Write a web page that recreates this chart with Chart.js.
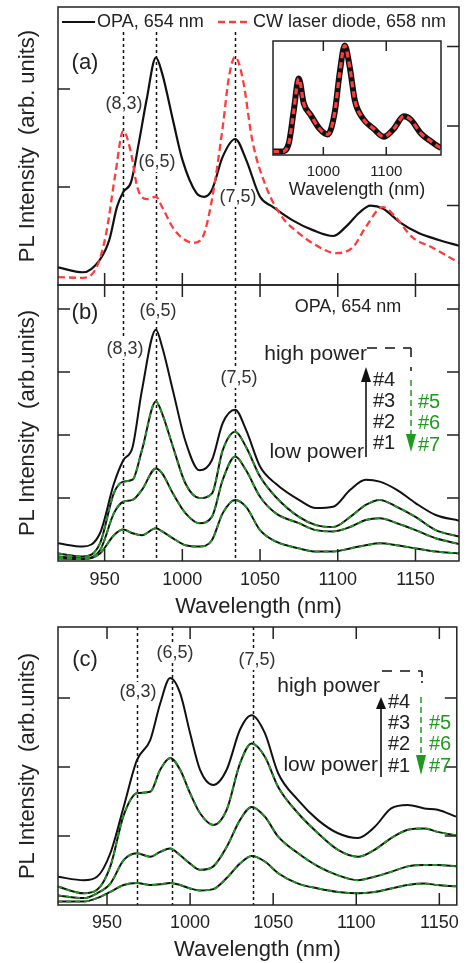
<!DOCTYPE html>
<html>
<head>
<meta charset="utf-8">
<script src="https://cdn.jsdelivr.net/npm/chart.js@4.4.0/dist/chart.umd.min.js"></script>
<style>
  body { margin: 0; background: #fff; }
  #wrap { position: relative; width: 466px; height: 963px; overflow: hidden; }
  canvas { position: absolute; }
</style>
</head>
<body>
<div id="wrap">
  <canvas id="panelA" width="466" height="286" style="left:0;top:0"></canvas>
  <canvas id="panelB" width="466" height="342" style="left:0;top:278px"></canvas>
  <canvas id="panelC" width="466" height="343" style="left:0;top:620px"></canvas>
  <canvas id="inset" width="180" height="166" style="left:268px;top:36px"></canvas>
</div>
<script>
// ---- data ----

// panel (a): OPA excitation (left axis) and CW laser diode (right axis)
const aOpaNm  = [920, 936, 947, 953, 958, 962, 967, 972, 977, 983, 987, 994, 1000, 1009, 1014, 1019, 1026, 1034, 1041, 1050, 1058, 1071, 1084, 1097, 1105, 1114, 1121, 1129, 1140, 1152, 1165, 1178];
const aOpaVal = [0.18, 0.13, 0.26, 0.46, 0.80, 0.95, 1.05, 1.45, 1.89, 2.32, 2.16, 1.68, 1.28, 0.94, 0.90, 0.97, 1.31, 1.49, 1.28, 0.90, 0.80, 0.66, 0.56, 0.50, 0.59, 0.74, 0.81, 0.78, 0.64, 0.53, 0.46, 0.40];
const aCwNm   = [920, 936, 945, 951, 957, 962, 967, 971, 977, 983, 987, 994, 1000, 1007, 1013, 1019, 1026, 1030, 1034, 1039, 1045, 1054, 1064, 1075, 1086, 1099, 1110, 1118, 1129, 1137, 1148, 1161, 1178];
const aCwVal  = [0.10, 0.09, 0.23, 0.65, 1.41, 1.94, 1.66, 1.23, 1.08, 1.11, 0.98, 0.72, 0.59, 0.53, 0.60, 1.07, 1.99, 2.62, 2.87, 2.58, 1.82, 1.23, 0.86, 0.65, 0.50, 0.40, 0.48, 0.73, 0.98, 0.86, 0.60, 0.47, 0.28];

// inset of (a)
const insetNm  = [920, 934, 945, 953, 961, 969, 980, 994, 1007, 1018, 1026, 1034, 1042, 1050, 1063, 1080, 1096, 1112, 1128, 1139, 1155, 1171, 1184, 1187];
const insetVal = [0.03, 0.03, 0.10, 0.39, 0.67, 0.45, 0.35, 0.23, 0.18, 0.37, 0.72, 0.96, 0.77, 0.48, 0.32, 0.23, 0.16, 0.23, 0.34, 0.31, 0.19, 0.12, 0.07, 0.06];

// panel (b): power series #1..#4 (#5..#7 retrace #3..#1)
const bNm     = [920, 936, 947, 956, 962, 968, 974, 983, 987, 994, 1002, 1011, 1019, 1026, 1034, 1041, 1050, 1060, 1075, 1086, 1097, 1108, 1118, 1127, 1138, 1150, 1163, 1178];
const bPower4 = [0.28, 0.23, 0.44, 1.23, 1.60, 1.81, 2.71, 3.67, 3.40, 2.70, 1.90, 1.44, 1.60, 2.19, 2.40, 2.08, 1.50, 1.23, 0.97, 0.84, 0.86, 1.13, 1.29, 1.26, 1.13, 0.92, 0.73, 0.64];
const bPower3 = [0.12, 0.07, 0.28, 1.08, 1.26, 1.29, 1.76, 2.53, 2.34, 1.81, 1.23, 1.00, 1.07, 1.76, 2.05, 1.81, 1.34, 1.02, 0.70, 0.57, 0.54, 0.70, 0.89, 0.97, 0.86, 0.70, 0.49, 0.39];
const bPower2 = [0.07, 0.04, 0.17, 0.76, 0.94, 0.97, 1.13, 1.47, 1.39, 1.07, 0.76, 0.60, 0.70, 1.29, 1.66, 1.44, 1.02, 0.76, 0.60, 0.49, 0.47, 0.54, 0.65, 0.68, 0.60, 0.49, 0.36, 0.27];
const bPower1 = [0.04, 0.03, 0.12, 0.41, 0.50, 0.44, 0.41, 0.52, 0.47, 0.36, 0.25, 0.23, 0.33, 0.76, 0.97, 0.86, 0.49, 0.31, 0.20, 0.15, 0.15, 0.20, 0.25, 0.28, 0.25, 0.20, 0.15, 0.12];

// panel (c)
const cNm     = [920, 936, 944, 952, 960, 968, 976, 982, 988, 994, 1000, 1006, 1014, 1022, 1030, 1037, 1045, 1053, 1065, 1077, 1089, 1101, 1111, 1121, 1131, 1141, 1149, 1160];
const cPower4 = [0.41, 0.36, 0.41, 0.75, 1.42, 2.10, 2.39, 2.92, 3.29, 3.07, 2.49, 1.96, 1.74, 1.96, 2.54, 2.75, 2.49, 1.91, 1.52, 1.23, 1.04, 0.97, 1.13, 1.40, 1.45, 1.40, 1.38, 1.28];
const cPower3 = [0.27, 0.17, 0.22, 0.56, 1.30, 1.62, 1.64, 1.96, 2.13, 1.96, 1.62, 1.33, 1.16, 1.38, 2.05, 2.34, 2.15, 1.71, 1.33, 1.04, 0.80, 0.70, 0.80, 0.97, 1.09, 1.11, 1.06, 1.01];
const cPower2 = [0.14, 0.10, 0.17, 0.31, 0.65, 0.75, 0.70, 0.77, 0.82, 0.72, 0.60, 0.51, 0.56, 0.84, 1.23, 1.42, 1.28, 0.99, 0.75, 0.56, 0.43, 0.36, 0.41, 0.48, 0.56, 0.58, 0.58, 0.56];
const cPower1 = [0.05, 0.05, 0.10, 0.19, 0.29, 0.32, 0.29, 0.30, 0.32, 0.29, 0.24, 0.21, 0.23, 0.39, 0.60, 0.71, 0.63, 0.46, 0.31, 0.24, 0.19, 0.17, 0.19, 0.24, 0.29, 0.31, 0.29, 0.27];

// peak markers and ticks
const abPeaks = [962, 983, 1034];
const cPeaks  = [968, 989, 1038];
const xTicks  = [950, 1000, 1050, 1100, 1150];
const insetTicks = [1000, 1100];
const aLeftTicks = [1, 2];
const aRightTicks = [1, 2, 3];
const bYTicks = [1, 2, 3, 4];
const cYTicks = [1, 2, 3];

// ---- drawing helpers ----
const FONT = '"Liberation Sans", Arial, Helvetica, sans-serif';
const BLACK = '#111111';
const RED = '#ff3c3c';
const GREEN = '#1f9a1f';
const TXT = '#222222';

Chart.defaults.font.family = FONT;
Chart.defaults.color = TXT;

function pts(xs, ys) { return xs.map((x, i) => ({ x: x, y: ys[i] })); }

function text(ctx, s, x, y, size, color, align) {
  ctx.font = size + 'px ' + FONT;
  ctx.fillStyle = color || TXT;
  ctx.textAlign = align || 'center';
  ctx.textBaseline = 'middle';
  ctx.fillText(s, x, y);
}

function line(ctx, x1, y1, x2, y2, color, width, dash) {
  ctx.save();
  ctx.strokeStyle = color;
  ctx.lineWidth = width;
  ctx.setLineDash(dash || []);
  ctx.beginPath();
  ctx.moveTo(x1, y1);
  ctx.lineTo(x2, y2);
  ctx.stroke();
  ctx.restore();
}

function head(ctx, x, tipY, baseY, half, color) {
  ctx.fillStyle = color;
  ctx.beginPath();
  ctx.moveTo(x, tipY);
  ctx.lineTo(x - half, baseY);
  ctx.lineTo(x + half, baseY);
  ctx.closePath();
  ctx.fill();
}

// frame, inward ticks, dotted peak lines and labels for one panel
function decor(o) {
  return {
    id: 'decor',
    beforeDatasetsDraw(chart) {
      const { ctx, chartArea: a, scales } = chart;
      const off = o.top || 0;
      ctx.save();
      if (o.white) { ctx.fillStyle = '#fff'; ctx.fillRect(a.left, a.top, a.right - a.left, a.bottom - a.top); }
      (o.peaks || []).forEach(v => {
        const x = Math.round(scales.x.getPixelForValue(v)) + 0.5;
        const y0 = o.peakFrom ? o.peakFrom - off : a.top;
        line(ctx, x, y0, x, a.bottom, BLACK, 1.5, [3, 3]);
      });
      (o.peakLabels || []).forEach(l => {
        ctx.font = '18px ' + FONT;
        const w = ctx.measureText(l[0]).width;
        ctx.fillStyle = '#fff';
        ctx.fillRect(l[1] - w / 2 - 1, l[2] - off - 10, w + 2, 20);
        text(ctx, l[0], l[1], l[2] - off, 18, '#333');
      });
      ctx.restore();
    },
    afterDatasetsDraw(chart) {
      const { ctx, chartArea: a, scales } = chart;
      const off = o.top || 0;
      const len = o.tickLen || 12;
      ctx.save();
      ctx.strokeStyle = '#222';
      ctx.lineWidth = 1.5;
      ctx.strokeRect(a.left, a.top, a.right - a.left, a.bottom - a.top);
      ctx.beginPath();
      (o.xTicks || []).forEach(v => {
        const x = scales.x.getPixelForValue(v);
        if (o.ticksBottom) { ctx.moveTo(x, a.bottom); ctx.lineTo(x, a.bottom - (o.bottomLen || len)); }
        if (o.ticksTop) { ctx.moveTo(x, a.top); ctx.lineTo(x, a.top + len); }
      });
      (o.leftTicks || []).forEach(v => {
        const y = scales.y.getPixelForValue(v);
        ctx.moveTo(a.left, y); ctx.lineTo(a.left + len, y);
      });
      (o.rightTicks || []).forEach(v => {
        const y = scales[o.rightAxis || 'y'].getPixelForValue(v);
        ctx.moveTo(a.right, y); ctx.lineTo(a.right - len, y);
      });
      ctx.stroke();
      if (o.extra) o.extra(ctx, off);
      ctx.restore();
    }
  };
}

function curve(data, color, width, dash, axis) {
  return {
    data: data,
    borderColor: color,
    borderWidth: width,
    borderDash: dash || [],
    yAxisID: axis || 'y',
    pointRadius: 0,
    fill: false,
    cubicInterpolationMode: 'monotone'
  };
}

function bottomAxis(min, max, ticks, fitH, tickSize, tickPad, titleSize, titlePad) {
  return {
    type: 'linear', min: min, max: max,
    grid: { display: false, drawTicks: false },
    border: { display: false },
    afterBuildTicks: s => { s.ticks = ticks.map(v => ({ value: v })); },
    ticks: { font: { size: tickSize }, color: TXT, padding: tickPad, maxRotation: 0, callback: v => String(v) },
    title: { display: true, text: 'Wavelength (nm)', font: { size: titleSize }, color: TXT, padding: { top: 0, bottom: titlePad } },
    afterFit: s => { s.height = fitH; }
  };
}

function leftAxis(max, label) {
  return {
    min: 0, max: max,
    grid: { display: false, drawTicks: false },
    border: { display: false },
    ticks: { display: false },
    title: { display: true, text: label, font: { size: 22 }, color: TXT, padding: { top: 15, bottom: 0 } },
    afterFit: s => { s.width = 58; }
  };
}

const common = {
  responsive: false,
  animation: false,
  events: [],
  plugins: { legend: { display: false }, tooltip: { enabled: false } }
};

// ---- panel (a) ----
new Chart(document.getElementById('panelA'), {
  type: 'line',
  data: { datasets: [
    curve(pts(aCwNm, aCwVal), RED, 2.3, [7, 4], 'y2'),
    curve(pts(aOpaNm, aOpaVal), BLACK, 2.2)
  ] },
  options: Object.assign({}, common, {
    layout: { padding: { top: 7, right: 7, bottom: 1, left: 0 } },
    scales: {
      x: { type: 'linear', min: 920, max: 1178, display: false },
      y: leftAxis(2.837, 'PL Intensity  (arb. units)'),
      y2: { position: 'right', min: 0, max: 3.497, display: false }
    }
  }),
  plugins: [decor({
    top: 0, peaks: abPeaks, peakFrom: 32,
    peakLabels: [['(8,3)', 124, 104], ['(6,5)', 157, 162], ['(7,5)', 238, 197]],
    xTicks: xTicks, ticksBottom: true,
    leftTicks: aLeftTicks, rightTicks: aRightTicks, rightAxis: 'y2',
    extra: (ctx) => {
      line(ctx, 62, 22, 95, 22, BLACK, 2);
      text(ctx, 'OPA, 654 nm', 97, 22, 18, TXT, 'left');
      line(ctx, 218, 22, 250, 22, RED, 2.5, [7, 4]);
      text(ctx, 'CW laser diode, 658 nm', 253, 22, 18, TXT, 'left');
      text(ctx, '(a)', 85, 63, 22);
    }
  })]
});

// ---- inset ----
new Chart(document.getElementById('inset'), {
  type: 'line',
  data: { datasets: [
    curve(pts(insetNm, insetVal), RED, 3.2, [6, 4]),
    curve(pts(insetNm, insetVal), BLACK, 6)
  ] },
  options: Object.assign({}, common, {
    layout: { padding: { top: 5, right: 7, bottom: 0, left: 5 } },
    scales: {
      x: bottomAxis(920, 1187, insetTicks, 47, 15, 8, 18, 1),
      y: { min: 0, max: 1.0, display: false }
    }
  }),
  plugins: [decor({ top: 36, white: true, xTicks: insetTicks, ticksTop: true, ticksBottom: true, tickLen: 10, bottomLen: 8 })]
});

// ---- panel (b) ----
new Chart(document.getElementById('panelB'), {
  type: 'line',
  data: { datasets: [
    curve(pts(bNm, bPower3), GREEN, 1.8, [5, 4]),
    curve(pts(bNm, bPower2), GREEN, 1.8, [5, 4]),
    curve(pts(bNm, bPower1), GREEN, 1.8, [5, 4]),
    curve(pts(bNm, bPower4), BLACK, 2),
    curve(pts(bNm, bPower3), BLACK, 2),
    curve(pts(bNm, bPower2), BLACK, 2),
    curve(pts(bNm, bPower1), BLACK, 2)
  ] },
  options: Object.assign({}, common, {
    layout: { padding: { top: 7, right: 7, bottom: 0, left: 0 } },
    scales: {
      x: bottomAxis(920, 1178, xTicks, 59, 18, 8, 22, 0),
      y: leftAxis(4.381, 'PL Intensity  (arb.units)')
    }
  }),
  plugins: [decor({
    top: 278, peaks: abPeaks,
    peakLabels: [['(6,5)', 158, 311], ['(8,3)', 125, 349], ['(7,5)', 239, 378]],
    xTicks: xTicks, ticksTop: true, ticksBottom: true,
    leftTicks: bYTicks, rightTicks: bYTicks,
    extra: (ctx, off) => {
      text(ctx, '(b)', 85, 313 - off, 22);
      text(ctx, 'OPA, 654 nm', 348, 307 - off, 18);
      text(ctx, 'high power', 367, 354 - off, 21, TXT, 'right');
      text(ctx, 'low power', 364, 452 - off, 21, TXT, 'right');
      ['#4', '#3', '#2', '#1'].forEach((s, i) => text(ctx, s, 373, [380, 401, 422, 443][i] - off, 20, TXT, 'left'));
      ['#5', '#6', '#7'].forEach((s, i) => text(ctx, s, 418, [402, 423, 445][i] - off, 20, GREEN, 'left'));
      line(ctx, 366, 457 - off, 366, 380 - off, BLACK, 1.6);
      head(ctx, 366, 367 - off, 382 - off, 5, BLACK);
      line(ctx, 367, 348 - off, 411, 348 - off, BLACK, 1.5, [10, 8]);
      line(ctx, 411, 348 - off, 411, 357 - off, BLACK, 1.5);
      line(ctx, 411, 367 - off, 411, 371 - off, BLACK, 1.5);
      line(ctx, 411, 380 - off, 411, 436 - off, GREEN, 1.5, [6, 4]);
      head(ctx, 411, 452 - off, 434 - off, 5, GREEN);
    }
  })]
});

// ---- panel (c) ----
new Chart(document.getElementById('panelC'), {
  type: 'line',
  data: { datasets: [
    curve(pts(cNm, cPower3), GREEN, 1.8, [5, 4]),
    curve(pts(cNm, cPower2), GREEN, 1.8, [5, 4]),
    curve(pts(cNm, cPower1), GREEN, 1.8, [5, 4]),
    curve(pts(cNm, cPower4), BLACK, 2),
    curve(pts(cNm, cPower3), BLACK, 2),
    curve(pts(cNm, cPower2), BLACK, 2),
    curve(pts(cNm, cPower1), BLACK, 2)
  ] },
  options: Object.assign({}, common, {
    layout: { padding: { top: 7, right: 7, bottom: 0, left: 0 } },
    scales: {
      x: bottomAxis(920.5, 1160.5, xTicks, 58, 18, 7, 22, 0),
      y: leftAxis(4.029, 'PL Intensity  (arb.units)')
    }
  }),
  plugins: [decor({
    top: 620, peaks: cPeaks,
    peakLabels: [['(6,5)', 175, 653], ['(8,3)', 138, 692], ['(7,5)', 257, 660]],
    xTicks: xTicks, ticksTop: true, ticksBottom: true,
    leftTicks: cYTicks, rightTicks: cYTicks,
    extra: (ctx, off) => {
      text(ctx, '(c)', 85, 660 - off, 22);
      text(ctx, 'high power', 380, 686 - off, 21, TXT, 'right');
      text(ctx, 'low power', 378, 765 - off, 21, TXT, 'right');
      ['#4', '#3', '#2', '#1'].forEach((s, i) => text(ctx, s, 388, [702, 723, 744, 766][i] - off, 20, TXT, 'left'));
      ['#5', '#6', '#7'].forEach((s, i) => text(ctx, s, 429, [723, 744, 766][i] - off, 20, GREEN, 'left'));
      line(ctx, 381, 777 - off, 381, 707 - off, BLACK, 1.6);
      head(ctx, 381, 697 - off, 709 - off, 5, BLACK);
      line(ctx, 382, 671 - off, 422, 671 - off, BLACK, 1.5, [10, 8]);
      line(ctx, 422, 671 - off, 422, 683 - off, BLACK, 1.5, [6, 4]);
      line(ctx, 421, 697 - off, 421, 757 - off, GREEN, 1.5, [6, 4]);
      head(ctx, 421, 775 - off, 755 - off, 5, GREEN);
    }
  })]
});
</script>
</body>
</html>
